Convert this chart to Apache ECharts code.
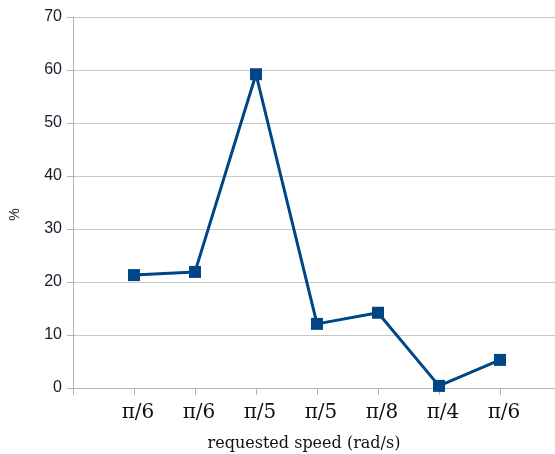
<!DOCTYPE html>
<html>
<head>
<meta charset="utf-8">
<script src="https://cdn.jsdelivr.net/npm/echarts@6/dist/echarts.min.js"></script>
<style>
  html, body { margin: 0; padding: 0; background: #fff; }
  #chart { width: 555px; height: 454px; }
</style>
</head>
<body>
<div id="chart"></div>
<script>
// categories (empty slots at both ends keep the axis padding of the original)
const speedLabels = ['', 'π/6', 'π/6', 'π/5', 'π/5', 'π/8', 'π/4', 'π/6', ''];
const percentValues = ['-', 21.3, 21.9, 59.2, 12.1, 14.2, 0.4, 5.3, '-'];
const yTicks = { min: 0, max: 70, interval: 10 };

const chart = echarts.init(document.getElementById('chart'));

chart.setOption({
    animation: false,
    grid: { left: 73, width: 488, top: 17, height: 371, containLabel: false, outerBoundsMode: 'none' },
    xAxis: {
        type: 'category',
        data: speedLabels,
        boundaryGap: false,
        name: 'requested speed (rad/s)',
        nameLocation: 'middle',
        nameGap: 48,
        nameTextStyle: { fontFamily: 'DejaVu Serif', fontSize: 16, color: '#111', padding: [0, 26, 0, 0] },
        axisLine: { lineStyle: { color: '#b3b3b3', width: 1 } },
        axisTick: { show: true, alignWithLabel: true, length: 7, lineStyle: { color: '#b3b3b3' } },
        axisLabel: {
            interval: 0,
            margin: 15,
            fontFamily: 'DejaVu Serif',
            fontSize: 20,
            color: '#111',
            padding: [0, 0, 0, 8]
        },
        splitLine: { show: false }
    },
    yAxis: {
        type: 'value',
        min: yTicks.min, max: yTicks.max, interval: yTicks.interval,
        name: '%',
        nameLocation: 'middle',
        nameGap: 51,
        nameRotate: 90,
        nameTextStyle: { fontFamily: 'Liberation Sans', fontSize: 14, color: '#222', padding: [0, 24, 0, 0] },
        axisLine: { show: true, lineStyle: { color: '#b3b3b3', width: 1 } },
        axisTick: { show: true, length: 6, lineStyle: { color: '#b3b3b3' } },
        axisLabel: {
            margin: 11,
            fontFamily: 'Liberation Sans',
            fontSize: 16,
            color: '#1a1a2a'
        },
        splitLine: { show: true, lineStyle: { color: '#c8c8c8', width: 1 } }
    },
    series: [{
        type: 'line',
        data: percentValues,
        symbol: 'rect',
        symbolSize: 12,
        showSymbol: true,
        showAllSymbol: true,
        lineStyle: { color: '#004586', width: 3 },
        itemStyle: { color: '#004586' }
    }]
});
</script>
</body>
</html>
